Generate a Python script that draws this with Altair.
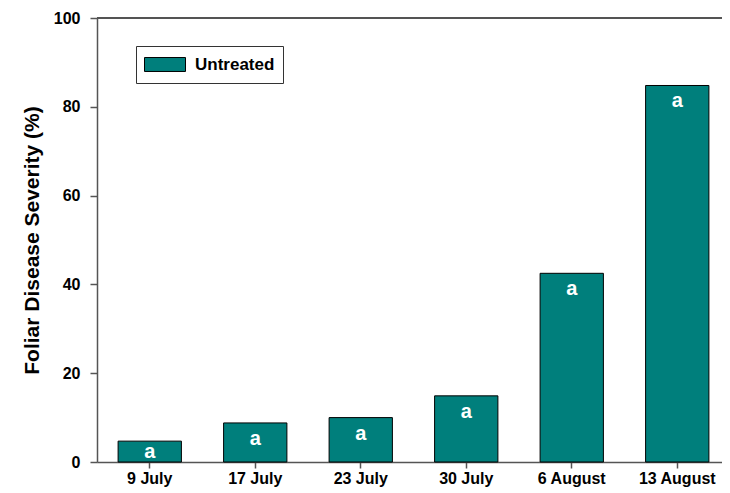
import altair as alt
import pandas as pd

dates = ["9 July", "17 July", "23 July", "30 July", "6 August", "13 August"]
severity = [4.7, 8.8, 10.0, 14.9, 42.5, 84.8]
letters = ["a", "a", "a", "a", "a", "a"]
treatment = ["Untreated"] * 6
y_ticks = [0, 20, 40, 60, 80, 100]

df = pd.DataFrame({"date": dates, "severity": severity, "letter": letters, "treatment": treatment})

FONT = "Liberation Sans"
TEAL = "#007f7c"

x_enc = alt.X(
    "date:N",
    sort=dates,
    scale=alt.Scale(range=[0, 633], paddingInner=0.4, paddingOuter=0.2),
    axis=alt.Axis(
        title=None, labelAngle=0, tickSize=6, labelPadding=2,
        labelFontSize=16, labelFontWeight="bold", labelColor="black",
        domainColor="#555", tickColor="#555", domainWidth=1.5, tickWidth=1.5,
    ),
)

bars = alt.Chart(df).mark_bar(stroke="black", strokeWidth=1).encode(
    x=x_enc,
    y=alt.Y(
        "severity:Q",
        scale=alt.Scale(domain=[0, 100], nice=False),
        axis=alt.Axis(
            title="Foliar Disease Severity (%)", values=y_ticks, grid=False,
            tickSize=7, labelPadding=10, labelFontSize=16, labelFontWeight="bold",
            labelColor="black", domainColor="#555", tickColor="#555",
            domainWidth=1.5, tickWidth=1.5,
            titleFontSize=21, titleFontWeight="bold", titleColor="black",
            titleX=-59, titleY=222, titleBaseline="alphabetic", titleAngle=270,
            titleAlign="center",
        ),
    ),
    color=alt.Color(
        "treatment:N",
        scale=alt.Scale(domain=["Untreated"], range=[TEAL]),
        legend=alt.Legend(
            title=None, orient="none", legendX=39, legendY=28, padding=8,
            strokeColor="#333", fillColor="white",
            symbolType="M-1,-0.34L1,-0.34L1,0.34L-1,0.34Z", symbolSize=1681,
            symbolStrokeColor="black", symbolStrokeWidth=1, symbolOpacity=1,
            labelFontSize=17, labelFontWeight="bold", labelColor="black",
            labelOffset=9, clipHeight=21,
        ),
    ),
)

labels = alt.Chart(df).transform_calculate(
    label_y="max(datum.severity - 4.95, 0.9)"
).mark_text(
    color="white", fontSize=20, fontWeight="bold", baseline="alphabetic", align="center"
).encode(
    x=alt.X("date:N", sort=dates),
    y=alt.Y("label_y:Q"),
    text="letter:N",
)

top_rule = alt.Chart(df).mark_rule(color="#555", strokeWidth=1.5).encode(
    x=alt.value(0), x2=alt.value(640), y=alt.value(0)
)

chart = alt.layer(bars, labels, top_rule).properties(
    width=625, height=444,
    autosize=alt.AutoSizeParams(type="none"),
    padding={"left": 89, "top": 10, "right": 0, "bottom": 31},
    background="white",
).configure_view(stroke=None).configure(font=FONT)

chart.save("out.html", embed_options={"renderer": "svg", "actions": False})
